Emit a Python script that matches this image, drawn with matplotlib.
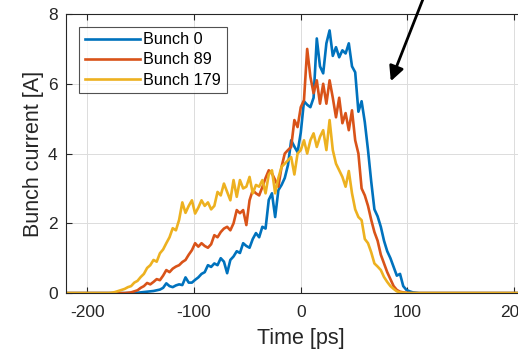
import matplotlib

matplotlib.use("Agg")
import matplotlib.pyplot as plt
import numpy as np

plt.rcParams["font.family"] = ["Liberation Sans", "DejaVu Sans"]
plt.rcParams["axes.unicode_minus"] = False

# Sampling grid of the bunch profiles (ps); flat zero tails at both ends.
time_ps = np.concatenate(([-220], np.arange(-180, 112, 3), [220]))

bunch_0 = [0.0,
           0, 0, 0, 0, 0, 0, 0, 0, 0, 0.01,
           0.02, 0.03, 0.04, 0.05, 0.06, 0.08, 0.10, 0.15, 0.28, 0.20,
           0.17, 0.22, 0.25, 0.23, 0.45, 0.30, 0.30, 0.38, 0.45, 0.55,
           0.60, 0.80, 0.75, 0.85, 0.80, 1.00, 0.90, 0.57, 0.95, 1.05,
           1.20, 1.15, 1.43, 1.35, 1.30, 1.55, 1.72, 1.60, 1.90, 1.85,
           2.67, 2.86, 2.18, 2.95, 3.10, 3.30, 3.67, 4.38, 4.20, 4.04,
           4.60, 5.50, 5.40, 5.33, 5.60, 7.30, 6.50, 6.30, 7.16, 7.53,
           6.80, 7.05, 6.76, 6.96, 6.87, 7.16, 6.50, 6.33, 5.20, 5.50,
           4.90, 4.10, 3.20, 2.40, 2.20, 1.90, 1.50, 1.20, 1.00, 0.75,
           0.50, 0.55, 0.20, 0.09, 0.05, 0.02, 0.01, 0,
           0.0]

bunch_89 = [0.0,
            0, 0, 0, 0, 0, 0, 0.01, 0.02, 0.05, 0.08,
            0.15, 0.20, 0.29, 0.25, 0.32, 0.40, 0.37, 0.50, 0.66, 0.60,
            0.70, 0.76, 0.80, 0.89, 0.95, 1.10, 1.23, 1.43, 1.33, 1.43,
            1.35, 1.30, 1.40, 1.66, 1.60, 1.75, 1.85, 1.90, 1.80, 2.00,
            2.38, 2.29, 2.38, 1.95, 2.66, 2.95, 2.86, 2.80, 3.04, 3.30,
            3.52, 3.43, 3.24, 3.05, 3.62, 4.00, 4.10, 4.19, 4.96, 4.76,
            5.33, 5.53, 7.00, 6.20, 5.73, 6.10, 5.43, 6.00, 5.43, 6.10,
            5.60, 5.04, 5.60, 4.87, 5.16, 4.67, 5.24, 4.38, 4.00, 3.00,
            2.80, 2.50, 2.10, 1.75, 1.50, 1.10, 0.85, 0.60, 0.40, 0.20,
            0.09, 0.04, 0.02, 0.01, 0, 0, 0, 0,
            0.0]

bunch_179 = [0.0,
             0, 0.01, 0.03, 0.06, 0.09, 0.12, 0.17, 0.20, 0.30, 0.35,
             0.46, 0.55, 0.72, 0.80, 0.95, 0.90, 1.14, 1.25, 1.43, 1.60,
             1.86, 1.80, 2.10, 2.60, 2.30, 2.50, 2.66, 2.28, 2.45, 2.66,
             2.50, 2.60, 2.40, 2.50, 2.90, 2.80, 3.14, 2.90, 2.66, 3.24,
             2.76, 3.24, 3.00, 3.05, 3.33, 2.86, 3.10, 3.05, 3.24, 2.86,
             3.40, 3.52, 2.86, 3.30, 3.62, 3.71, 3.81, 3.90, 3.40, 4.00,
             4.10, 4.38, 4.00, 4.38, 4.58, 4.19, 4.48, 4.67, 4.10, 4.96,
             4.10, 3.71, 3.52, 3.33, 3.05, 3.50, 2.86, 2.40, 2.18, 2.09,
             1.55, 1.43, 1.17, 0.85, 0.76, 0.66, 0.46, 0.32, 0.20, 0.12,
             0.05, 0.02, 0.01, 0, 0, 0, 0, 0,
             0.0]

series = [("Bunch 0", bunch_0, "#0072BD"),
          ("Bunch 89", bunch_89, "#D95319"),
          ("Bunch 179", bunch_179, "#EDB120")]

x_ticks = [-200, -100, 0, 100, 200]
y_ticks = [0, 2, 4, 6, 8]

fig = plt.figure(figsize=(5.18, 3.51), dpi=100)
# the axes runs past the right border of the figure
ax = fig.add_axes([0.1274, 0.165, 0.9065, 0.795])

for label, values, color in series:
    ax.plot(time_ps, values, color=color, lw=1.9, label=label)

ax.set_xlim(-220, 220)
ax.set_ylim(0, 8)
ax.set_xticks(x_ticks)
ax.set_yticks(y_ticks)
ax.grid(True, color="#dcdcdc", lw=0.7)
ax.set_axisbelow(True)
ax.tick_params(direction="in", top=True, right=True, length=4,
               labelsize=12.5, colors="#262626", width=0.8)
ax.tick_params(axis="x", pad=8.5)
ax.tick_params(axis="y", pad=6)
for sp in ax.spines.values():
    sp.set_color("#262626")
    sp.set_linewidth(0.8)

ax.set_xlabel("Time [ps]", fontsize=15.5, color="#262626", labelpad=6)
ax.set_ylabel("Bunch current [A]", fontsize=15.5, color="#262626", labelpad=3)

leg = ax.legend(loc="upper left", bbox_to_anchor=(0.028, 0.955), fontsize=11.7,
                frameon=True, fancybox=False, edgecolor="#262626",
                handlelength=3.4, handletextpad=0.2, borderpad=0.35,
                labelspacing=0.32, borderaxespad=0)
leg.get_frame().set_linewidth(0.8)

ax.annotate("", xy=(83.4, 6.0), xytext=(118, 8.7),
            arrowprops=dict(arrowstyle="-|>", color="black", lw=2,
                            mutation_scale=22),
            annotation_clip=False)

fig.savefig("out.png", dpi=100)
